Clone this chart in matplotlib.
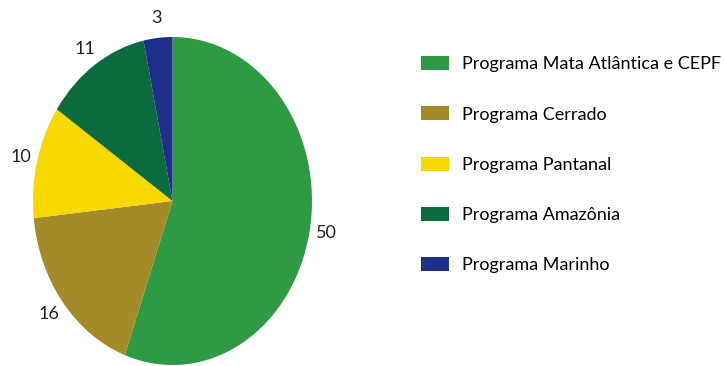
import matplotlib
matplotlib.use("Agg")
from matplotlib import pyplot as plt

programas = ["Programa Mata Atlântica e CEPF", "Programa Cerrado", "Programa Pantanal",
             "Programa Amazônia", "Programa Marinho"]
projetos = [50, 16, 10, 11, 3]
cores = ["#2e9a44", "#a58a2a", "#f7d900", "#0b6b3e", "#1e2f8a"]

plt.rcParams['font.family'] = ['Lato', 'DejaVu Sans']

fig = plt.figure(figsize=(7.24, 3.66), dpi=100)
ax = fig.add_axes([33 / 724, 1 / 366, 279 / 724, 328 / 366])

wedges, texts = ax.pie(projetos, colors=cores, startangle=90, counterclock=False,
                       labels=[str(v) for v in projetos], labeldistance=1.12,
                       textprops={'fontsize': 13, 'color': '#222222'},
                       wedgeprops={'linewidth': 0})
ax.set_aspect('auto')
ax.set_xlim(-1, 1)
ax.set_ylim(-1, 1)
for t in texts:
    t.set_clip_on(False)
    t.set_ha('center')

fig.legend(wedges, programas, loc='upper left', bbox_to_anchor=(421 / 724, 1 - 56 / 366),
           frameon=False, fontsize=13, handlelength=1.55, handleheight=0.83,
           handletextpad=0.7, labelspacing=1.88, borderpad=0, borderaxespad=0)

fig.savefig("out.png", dpi=100)
